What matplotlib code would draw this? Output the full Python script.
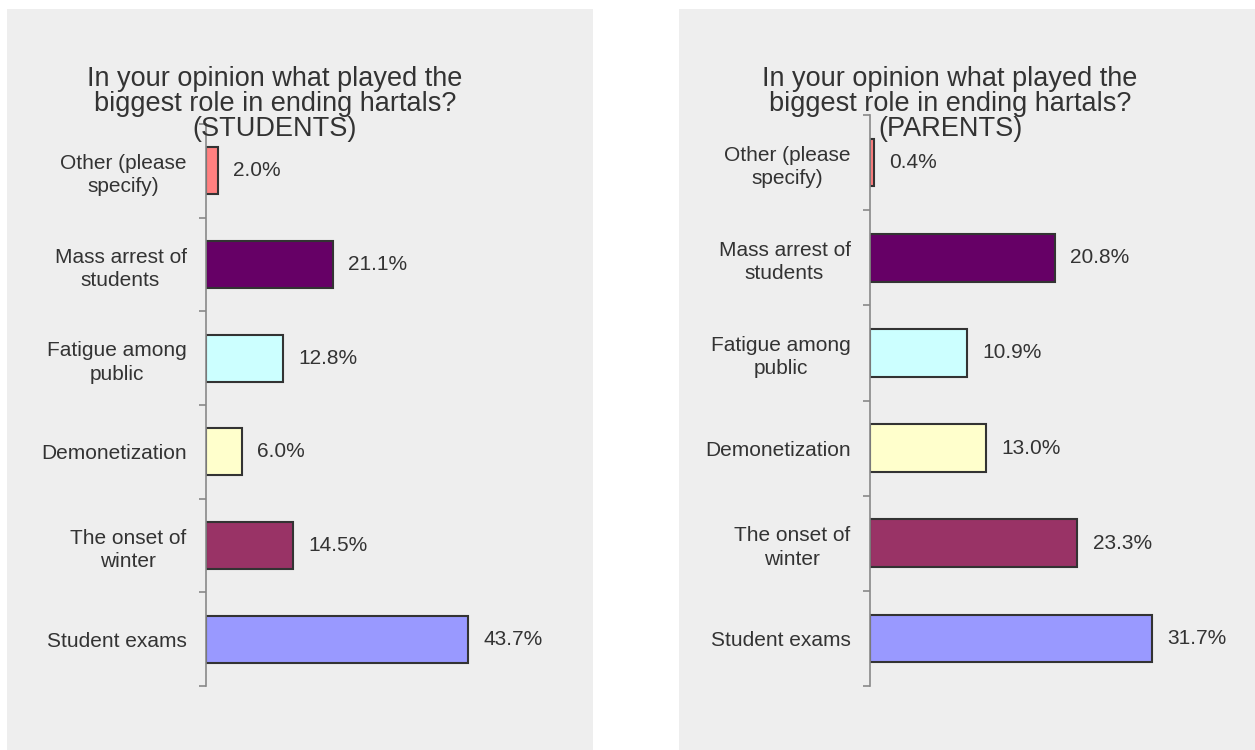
import matplotlib.pyplot as plt
from matplotlib.patches import Rectangle

plt.rcParams["font.family"] = ["Liberation Sans", "DejaVu Sans"]

categories = [
    "Student exams",
    "The onset of\nwinter",
    "Demonetization",
    "Fatigue among\npublic",
    "Mass arrest of\nstudents",
    "Other (please\nspecify)",
]
colors = ["#9999FF", "#993366", "#FFFFCC", "#CCFFFF", "#660066", "#FF8080"]

students = [43.7, 14.5, 6.0, 12.8, 21.1, 2.0]
parents = [31.7, 23.3, 13.0, 10.9, 20.8, 0.4]

title = "In your opinion what played the\nbiggest role in ending hartals?\n({})"

W, H = 1255, 750
fig = plt.figure(figsize=(W / 100, H / 100), dpi=100)
fig.patch.set_facecolor("white")

# gray panel backgrounds (pixel coords -> figure fraction)
for x0, x1 in [(7, 593), (679, 1255)]:
    fig.patches.append(Rectangle((x0 / W, 0), (x1 - x0) / W, (H - 9) / H,
                                 transform=fig.transFigure, facecolor="#EEEEEE",
                                 edgecolor="none", zorder=-5))


def panel(left, top, xmax, right, values, who, title_x):
    bottom = 686
    ax = fig.add_axes([left / W, (H - bottom) / H, (right - left) / W, (bottom - top) / H])
    ax.set_facecolor("none")
    y = range(len(categories))
    ax.barh(y, values, height=0.5, color=colors, edgecolor="#333333", linewidth=1.5)
    for yi, v in zip(y, values):
        ax.annotate(f"{v:.1f}%", (v, yi), xytext=(11, 0), textcoords="offset points",
                    va="center", ha="left", fontsize=15, color="#333333")
    ax.set_xlim(0, xmax)
    ax.set_ylim(-0.5, len(categories) - 0.5)
    for s in ["top", "right", "bottom"]:
        ax.spines[s].set_visible(False)
    ax.spines["left"].set_color("#888888")
    ax.spines["left"].set_linewidth(1.2)
    ax.set_xticks([])
    # ticks at category boundaries, labels at centers
    ax.set_yticks([i - 0.5 for i in range(len(categories) + 1)])
    ax.set_yticklabels([])
    ax.tick_params(axis="y", which="major", length=5, color="#888888", width=1.2)
    ax.set_yticks(list(y), minor=True)
    ax.set_yticklabels(categories, minor=True, fontsize=15, color="#333333",
                       multialignment="center", linespacing=1.3)
    ax.tick_params(axis="y", which="minor", length=0, pad=14)
    fig.text(title_x / W, 1 - 104 / H, title.format(who), ha="center", va="center",
             fontsize=19.5, color="#333333", linespacing=0.97)
    return ax


panel(206, 124, 59, 560, students, "STUDENTS", 275)
panel(870, 115, 41, 1235, parents, "PARENTS", 950)

fig.savefig("out.png", dpi=100)
